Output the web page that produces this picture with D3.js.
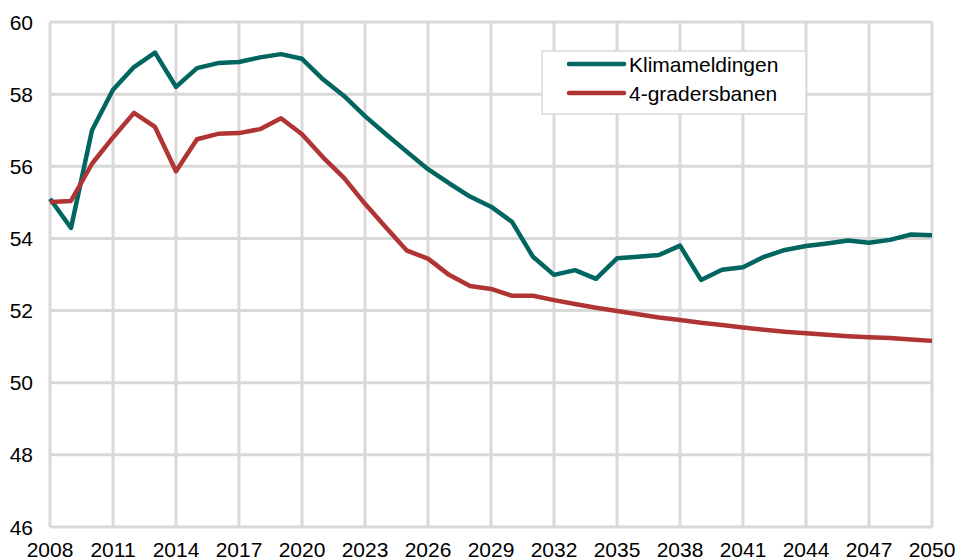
<!DOCTYPE html>
<html>
<head>
<meta charset="utf-8">
<script src="https://cdn.jsdelivr.net/npm/d3@7"></script>
<style>
  body { margin: 0; background: #fff; }
  text { font-family: "Liberation Sans", Arial, sans-serif; fill: #000; }
</style>
</head>
<body>
<div id="my_dataviz"></div>
<script>
// data
var years = d3.range(2008, 2051);
var klimameldingen = [
  55.1, 54.29, 57.0, 58.12, 58.75, 59.15, 58.2, 58.72, 58.86, 58.89,
  59.02, 59.11, 58.98, 58.41, 57.95, 57.39, 56.89, 56.4, 55.92, 55.53,
  55.16, 54.88, 54.46, 53.49, 52.99, 53.12, 52.88, 53.45, 53.49, 53.54,
  53.8, 52.85, 53.13, 53.2, 53.49, 53.68, 53.79, 53.86, 53.94, 53.88,
  53.96, 54.11, 54.09
];
var gradersbanen = [
  55.01, 55.04, 56.07, 56.8, 57.48, 57.09, 55.86, 56.75, 56.9, 56.92,
  57.03, 57.33, 56.89, 56.25, 55.68, 54.96, 54.3, 53.66, 53.44, 52.99,
  52.68, 52.6, 52.41, 52.41, 52.29, 52.18, 52.08, 51.99, 51.9, 51.81,
  51.74, 51.66, 51.6, 51.53, 51.47, 51.41, 51.37, 51.33, 51.29, 51.26,
  51.24, 51.2, 51.16
];
var seriesNames = ["Klimameldingen", "4-gradersbanen"];
var seriesColors = ["#00665f", "#b03434"];
var xTicks = d3.range(2008, 2051, 3);
var yTicks = [46, 48, 50, 52, 54, 56, 58, 60];

document.addEventListener("DOMContentLoaded", function () {
  drawChart();
});

function drawChart() {
  var margin = { top: 22, right: 25, bottom: 33, left: 50 },
    width = 957 - margin.left - margin.right,
    height = 560 - margin.top - margin.bottom;

  var svg = d3
    .select("#my_dataviz")
    .append("svg")
    .attr("width", width + margin.left + margin.right)
    .attr("height", height + margin.top + margin.bottom)
    .append("g")
    .attr("transform", "translate(" + margin.left + "," + margin.top + ")");

  var x = d3.scaleLinear().domain([2008, 2050]).range([0, width]);
  var y = d3.scaleLinear().domain([46, 60]).range([height, 0]);

  // grid
  svg.selectAll(".hgrid")
    .data(yTicks)
    .enter()
    .append("line")
    .attr("x1", 0)
    .attr("x2", width)
    .attr("y1", function (d) { return y(d); })
    .attr("y2", function (d) { return y(d); })
    .attr("stroke", "#d9d9d9")
    .attr("stroke-width", 3);

  svg.selectAll(".vgrid")
    .data(xTicks)
    .enter()
    .append("line")
    .attr("x1", function (d) { return x(d); })
    .attr("x2", function (d) { return x(d); })
    .attr("y1", 0)
    .attr("y2", height)
    .attr("stroke", "#d9d9d9")
    .attr("stroke-width", 3);

  // tick labels
  svg.selectAll(".ylab")
    .data(yTicks)
    .enter()
    .append("text")
    .attr("x", -17)
    .attr("y", function (d) { return y(d); })
    .attr("dy", "0.36em")
    .attr("text-anchor", "end")
    .style("font-size", "21px")
    .text(function (d) { return d; });

  svg.selectAll(".xlab")
    .data(xTicks)
    .enter()
    .append("text")
    .attr("x", function (d) { return x(d); })
    .attr("y", height + 30)
    .attr("text-anchor", "middle")
    .style("font-size", "21px")
    .text(function (d) { return d; });

  // lines
  var allSeries = [klimameldingen, gradersbanen];
  var line = d3.line()
    .x(function (d, i) { return x(years[i]); })
    .y(function (d) { return y(d); });

  svg.selectAll(".series")
    .data(allSeries)
    .enter()
    .append("path")
    .attr("d", line)
    .attr("fill", "none")
    .attr("stroke", function (d, i) { return seriesColors[i]; })
    .attr("stroke-width", 4.5)
    .attr("stroke-linejoin", "round");

  // legend
  var lx = 492, ly = 29;
  svg.append("rect")
    .attr("x", lx)
    .attr("y", ly)
    .attr("width", 264)
    .attr("height", 63)
    .attr("fill", "#fff")
    .attr("stroke", "#d9d9d9")
    .attr("stroke-width", 1.5);

  svg.selectAll(".legLine")
    .data(seriesNames)
    .enter()
    .append("line")
    .attr("x1", lx + 27)
    .attr("x2", lx + 82)
    .attr("y1", function (d, i) { return ly + 13 + i * 29; })
    .attr("y2", function (d, i) { return ly + 13 + i * 29; })
    .attr("stroke", function (d, i) { return seriesColors[i]; })
    .attr("stroke-width", 4.5)
    .attr("stroke-linecap", "round");

  svg.selectAll(".legText")
    .data(seriesNames)
    .enter()
    .append("text")
    .attr("x", lx + 87)
    .attr("y", function (d, i) { return ly + 13 + i * 29; })
    .attr("dy", "0.36em")
    .style("font-size", "21px")
    .text(function (d) { return d; });
}
</script>
</body>
</html>
